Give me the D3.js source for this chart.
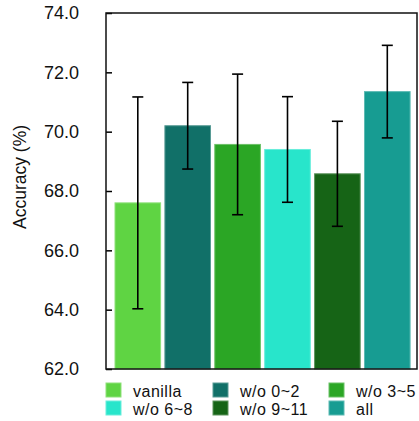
<!DOCTYPE html>
<html>
<head>
<meta charset="utf-8">
<script src="https://cdn.jsdelivr.net/npm/d3@7"></script>
<style>
  body { margin: 0; background: #fff; }
  text { font-family: "Liberation Sans", Arial, Helvetica, sans-serif; }
</style>
</head>
<body>
<script>
// chart values
const categories = ["vanilla", "w/o 0~2", "w/o 3~5", "w/o 6~8", "w/o 9~11", "all"];
const means = [67.6, 70.2, 69.57, 69.4, 68.58, 71.35];
const errors = [3.57, 1.46, 2.37, 1.78, 1.77, 1.56];
const colors = ["#5fd443", "#117068", "#2ba625", "#28e5cb", "#166416", "#179c92"];
const yTicks = [62, 64, 66, 68, 70, 72, 74];

const w = 419;
const h = 421;

const svg = d3
  .select("body")
  .append("svg")
  .attr("width", w)
  .attr("height", h);

const x = d3
  .scaleBand()
  .domain(categories)
  .range([112.85, 412.25])
  .paddingInner(0.086)
  .paddingOuter(0.043);

const y = d3.scaleLinear().domain([62, 74]).range([369, 13]);

// bars
svg
  .append("g")
  .selectAll("rect")
  .data(categories)
  .enter()
  .append("rect")
  .attr("x", (d) => x(d))
  .attr("width", x.bandwidth())
  .attr("y", (d, i) => y(means[i]))
  .attr("height", (d, i) => y(62) - y(means[i]))
  .attr("fill", (d, i) => colors[i])
  .attr("stroke", (d, i) => d3.interpolateRgb(colors[i], "#fff")(0.3))
  .attr("stroke-width", 1);

// error bars
const err = svg.append("g").attr("stroke", "#000").attr("stroke-width", 1.6);
categories.forEach((c, i) => {
  const cx = x(c) + x.bandwidth() / 2;
  const top = y(means[i] + errors[i]);
  const bot = y(means[i] - errors[i]);
  err.append("line").attr("x1", cx).attr("x2", cx).attr("y1", top).attr("y2", bot);
  err.append("line").attr("x1", cx - 5.5).attr("x2", cx + 5.5).attr("y1", top).attr("y2", top);
  err.append("line").attr("x1", cx - 5.5).attr("x2", cx + 5.5).attr("y1", bot).attr("y2", bot);
});

// y axis, ticks pointing inward
const yAxis = svg
  .append("g")
  .attr("transform", "translate(106,0)")
  .call(
    d3.axisLeft(y)
      .tickValues(yTicks)
      .tickFormat(d3.format(".1f"))
      .tickSizeInner(-6)
      .tickSizeOuter(0)
      .tickPadding(27)
  );
yAxis.select(".domain").remove();
yAxis.selectAll("line").attr("stroke", "#000").attr("stroke-width", 1.5);
yAxis.selectAll("text").attr("font-size", 18).attr("fill", "#111");

// frame
svg
  .append("rect")
  .attr("x", 106)
  .attr("y", 13)
  .attr("width", 417 - 106)
  .attr("height", 369 - 13)
  .attr("fill", "none")
  .attr("stroke", "#111")
  .attr("stroke-width", 1.5);

svg
  .append("text")
  .text("Accuracy (%)")
  .attr("transform", "translate(26,177) rotate(-90)")
  .attr("text-anchor", "middle")
  .attr("font-size", 17.5)
  .attr("fill", "#111");

// legend
const legendX = [106, 213, 329];
const legendY = [383, 401];
const legend = svg.append("g");
categories.forEach((c, i) => {
  const col = i % 3;
  const row = Math.floor(i / 3);
  legend
    .append("rect")
    .attr("x", legendX[col])
    .attr("y", legendY[row])
    .attr("width", 15)
    .attr("height", 14)
    .attr("fill", colors[i])
    .attr("stroke", d3.interpolateRgb(colors[i], "#fff")(0.3))
    .attr("stroke-width", 1);
  legend
    .append("text")
    .text(c)
    .attr("x", legendX[col] + 27)
    .attr("y", legendY[row] + 13.5)
    .attr("font-size", 16)
    .attr("letter-spacing", 0.5)
    .attr("fill", "#111");
});
</script>
</body>
</html>
